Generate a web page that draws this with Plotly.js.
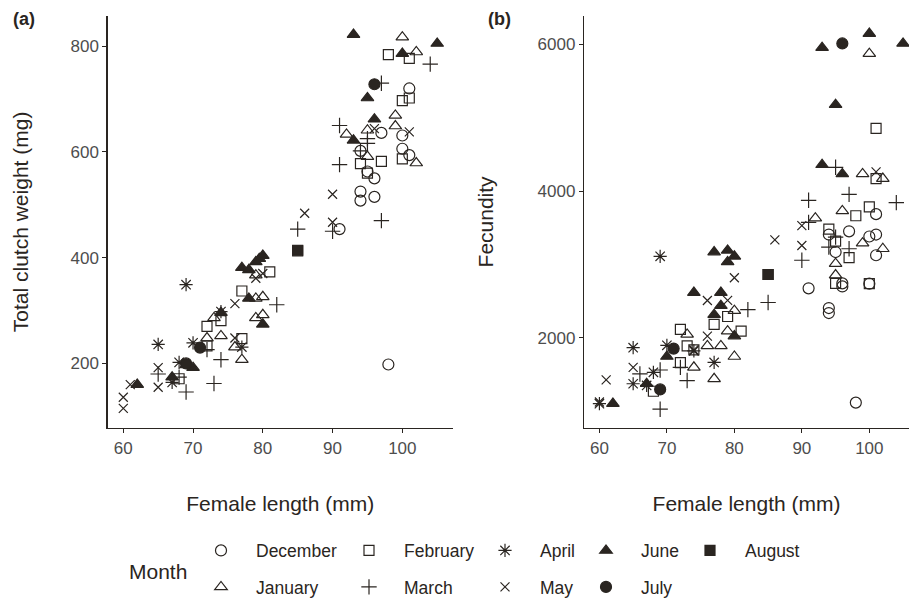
<!DOCTYPE html>
<html>
<head>
<meta charset="utf-8">
<script src="https://cdn.plot.ly/plotly-3.0.1.min.js"></script>
<style>html,body{margin:0;padding:0;background:#fff;}#chart{width:909px;height:605px;}</style>
</head>
<body>
<div id="chart"></div>
<script>
// ---- data ----
const months = ['December','January','February','March','April','May','June','July','August'];

// Panel (a): female length (mm) vs total clutch weight (mg)
const lengthA = [
  [101,97,100,100,101,94,95,96,94,94,96,91,98],
  [100,102,99,99,92,95,95,102,79,79,80,79,80,73,74,72,76,77],
  [98,101,100,101,97,100,94,95,85,81,77,74,72,77,72,68],
  [104,97,91,95,95,94,91,97,90,85,82,74,73,72,68,69,65],
  [69,74,65,70,77,68,67],
  [101,96,90,86,90,80,79,76,76,65,65,60,60,61],
  [93,100,105,95,96,93,77,78,79,79.5,80,78,80,74,69,70,67,62],
  [96,71,69],
  [85]
];
const weightA = [
  [720,636,631,606,594,602,563,550,525,508,515,454,198],
  [817,789,669,649,633,641,591,579,367,323,326,286,292,286,252,248,231,207],
  [784,777,697,702,582,587,578,560,413,373,337,281,270,247,233,171],
  [766,730,650,625,616,602,576,470,450,454,311,207,162,226,174,146,180],
  [349,298,236,239,231,202,164],
  [638,644,520,484,467,370,361,313,248,192,155,136,115,160],
  [822,786,805,702,662,622,381,377,392,398,404,323,274,296,197,192,174,160],
  [728,230,200],
  [414]
];

// Panel (b): female length (mm) vs fecundity
const lengthB = [
  [101,94,97,95,100,101,101,96,96,91,100,94,94,98],
  [100,99,102,96,92,99,102,95,95,80,79,73,76,78,80,74,77],
  [101,101,98,100,94,95,97,95,100,85,79,77,81,72,73,74,72,68],
  [95,91,97,104,91,95,94,97,90,85,82,72,73,69,69,66],
  [69,70,74,77,65,65,68,67,60],
  [101,90,90,86,80,76,79,76,74,65,61,60],
  [93,100,105,95,93,96,77,79,80,79,74,78,78,77,80,70,67,62],
  [96,71,69],
  [85]
];
const fecundityB = [
  [3686,3408,3452,3169,3381,3408,3125,2742,2700,2674,2737,2405,2337,1115],
  [5876,4235,4171,3731,3632,3290,3214,3011,2855,2369,2090,2046,1888,1888,1744,1596,1439],
  [4855,4171,3664,3786,3483,3318,3092,2742,2737,2863,2290,2181,2090,2113,1888,1834,1660,1270],
  [4325,3875,3956,3843,3574,3372,3237,3214,3057,2481,2383,1596,1416,1025,1560,1506],
  [3111,1897,1820,1663,1865,1372,1528,1350,1100],
  [4262,3529,3259,3335,2819,2508,2510,2023,1834,1596,1425,1123],
  [5957,6150,6015,5180,4360,4235,3169,3192,3111,3034,2616,2616,2437,2315,2023,1744,1372,1102],
  [6015,1852,1295],
  [2863]
];

const xTicks = [60,70,80,90,100];
const yTicksA = [200,400,600,800];
const yTicksB = [2000,4000,6000];

// ---- styling ----
const ink = '#2a2521';
const FONT = 'Liberation Sans, Arial, sans-serif';
const symbols = ['circle-open','triangle-up-open','square-open','cross-thin-open','asterisk-open','x-thin-open','triangle-up','circle','square'];
const sizes   = [11,11,10,11,11,9,11,11,10];
const legendIds = ['legend','legend2','legend3','legend4','legend5','legend6','legend7','legend8','legend9'];
// legend slot positions in px (left edge, vertical centre)
const legendPx = [[186,557],[186,594],[334,557],[334,594],[470,557],[470,594],[571,557],[571,594],[675,557]];

const W = 909, H = 605;
const traces = [];
months.forEach((m, i) => {
  const marker = {symbol: symbols[i], size: sizes[i], color: ink, line: {color: ink, width: 1.2}};
  traces.push({type:'scatter', mode:'markers', name:m, x:lengthA[i], y:weightA[i], xaxis:'x', yaxis:'y',
               marker:marker, legend:legendIds[i], showlegend:true, hoverinfo:'skip'});
  traces.push({type:'scatter', mode:'markers', name:m, x:lengthB[i], y:fecundityB[i], xaxis:'x2', yaxis:'y2',
               marker:marker, legend:legendIds[i], showlegend:false, hoverinfo:'skip'});
});

const tickFont = {family:FONT, size:17, color:'#4d4d4d'};
const titleFont = {family:FONT, size:21, color:ink};
function axisBase() {
  return {showline:true, linecolor:ink, linewidth:1.3, ticks:'outside', ticklen:4, tickwidth:1.1,
          tickcolor:ink, tickfont:tickFont, showgrid:false, zeroline:false, fixedrange:true};
}
const yDom = [1-433/H, 1-16/H];

const layout = {
  width:W, height:H, margin:{l:0,r:0,t:0,b:0}, paper_bgcolor:'#ffffff', plot_bgcolor:'#ffffff',
  font:{family:FONT, color:ink},
  xaxis: Object.assign(axisBase(), {domain:[107.6/W, 452.9/W], range:[57.75,107.25], tickvals:xTicks,
          anchor:'y', title:{text:'Female length (mm)', font:titleFont, standoff:39}}),
  yaxis: Object.assign(axisBase(), {domain:yDom, range:[77.9,857.4], tickvals:yTicksA,
          anchor:'x', title:{text:'Total clutch weight (mg)', font:titleFont, standoff:36}}),
  xaxis2: Object.assign(axisBase(), {domain:[584.1/W, 1], range:[57.73,105.88], tickvals:xTicks,
          anchor:'y2', title:{text:'Female length (mm)', font:titleFont, standoff:39}}),
  yaxis2: Object.assign(axisBase(), {domain:yDom, range:[768.7,6392], tickvals:yTicksB,
          anchor:'x2', title:{text:'Fecundity', font:titleFont, standoff:38}}),
  annotations:[
    {text:'<b>(a)</b>', x:11/W, y:1-19/H, xref:'paper', yref:'paper', xanchor:'left', yanchor:'middle', showarrow:false,
     font:{family:FONT, size:18, color:ink}},
    {text:'<b>(b)</b>', x:486/W, y:1-19/H, xref:'paper', yref:'paper', xanchor:'left', yanchor:'middle', showarrow:false,
     font:{family:FONT, size:18, color:ink}},
    {text:'Month', x:127/W, y:1-578/H, xref:'paper', yref:'paper', xanchor:'left', yanchor:'middle', showarrow:false,
     font:{family:FONT, size:21, color:ink}}
  ],
  showlegend:true
};
legendIds.forEach((id, i) => {
  layout[id] = {x:legendPx[i][0]/W, y:1-legendPx[i][1]/H, xanchor:'left', yanchor:'middle',
    bgcolor:'rgba(0,0,0,0)', borderwidth:0, itemsizing:'trace', itemwidth:60,
    font:{family:FONT, size:17.5, color:ink}};
});

Plotly.newPlot('chart', traces, layout, {staticPlot:true, displayModeBar:false});
</script>
</body>
</html>
